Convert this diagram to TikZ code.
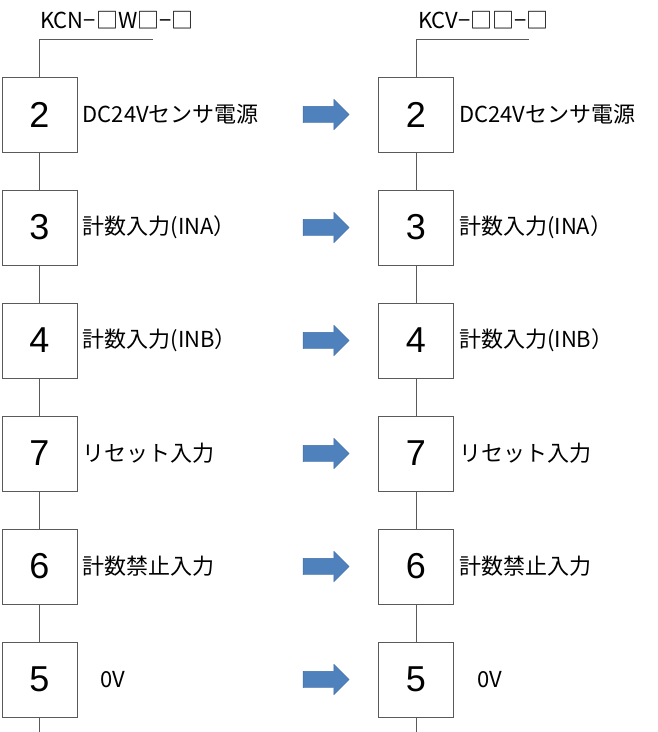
\documentclass[tikz,border=0pt]{standalone}
\usepackage{fontspec}
\setmainfont{Noto Sans CJK JP}
\newfontfamily\digitfont{Liberation Sans}
\usetikzlibrary{shapes.arrows, positioning}
\definecolor{wiregray}{RGB}{90,90,90}
\definecolor{arrowblue}{RGB}{79,129,189}
\definecolor{arrowedge}{RGB}{65,110,165}
\tikzset{
  pinbox/.style={
    draw=wiregray, fill=white, line width=0.9pt,
    minimum size=75pt, inner sep=0pt,
    font=\digitfont\fontsize{36}{40}\selectfont
  },
  pinlabel/.style={
    anchor=west, inner sep=0pt,
    font=\fontsize{22}{26}\selectfont
  },
  modellabel/.style={
    anchor=west, inner sep=0pt,
    font=\fontsize{22}{26}\selectfont
  },
  wire/.style={
    draw=wiregray, line width=0.9pt
  },
  swaparrow/.style={
    single arrow, fill=arrowblue, draw=arrowedge, line width=0.4pt,
    minimum height=46pt, inner xsep=0pt, inner ysep=8pt,
    single arrow head extend=7pt
  },
}

\begin{document}
\begin{tikzpicture}[x=1pt, y=-1pt]
  \useasboundingbox (0,0) rectangle (657,732);

  %% Model numbers
  \node[modellabel] (kcn) at (40,20) {KCN−□W□−□};
  \node[modellabel] (kcv) at (418,20) {KCV−□□−□};
  \coordinate (kcnend) at (153,39);
  \coordinate (kcvend) at (529,39);
  \coordinate (bottom) at (0,732);

  %% Terminals: old (L) and new (R)
  \foreach \i/\pin/\txt/\dx in {1/2/DC24Vセンサ電源/5,
                                2/3/計数入力(INA）/5,
                                3/4/計数入力(INB）/5,
                                4/7/リセット入力/5,
                                5/6/計数禁止入力/5,
                                6/5/0V/23}{
    \pgfmathsetmacro{\rowy}{114.5+113*(\i-1)}
    \node[pinbox] (L\i) at (39.5,\rowy) {\pin};
    \node[pinlabel, right=\dx pt of L\i] (LT\i) {\txt};
    \node[swaparrow] (A\i) at (322,\rowy) {};
    \node[pinbox] (R\i) at (416,\rowy) {\pin};
    \node[pinlabel, right=\dx pt of R\i] (RT\i) {\txt};
  }

  %% Wiring
  \draw[wire] (L1.north) |- (kcnend);
  \draw[wire] (R1.north) |- (kcvend);
  \foreach \i [evaluate=\i as \j using int(\i+1)] in {1,...,5}{
    \draw[wire] (L\i.south) -- (L\j.north);
    \draw[wire] (R\i.south) -- (R\j.north);
  }
  \draw[wire] (L6.south) -- (L6.south |- bottom);
  \draw[wire] (R6.south) -- (R6.south |- bottom);

\end{tikzpicture}
\end{document}
